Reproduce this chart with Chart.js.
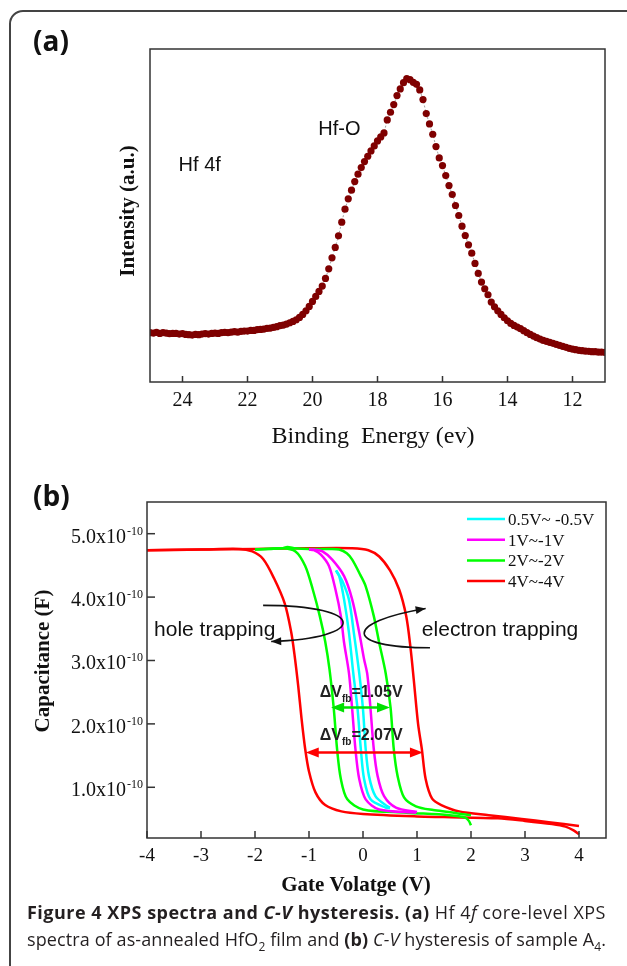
<!DOCTYPE html>
<html>
<head>
<meta charset="utf-8">
<script src="https://cdn.jsdelivr.net/npm/chart.js@4.4.0/dist/chart.umd.min.js"></script>
<style>
  html, body { margin: 0; padding: 0; background: #fff; }
  body { width: 627px; height: 966px; position: relative; overflow: hidden; }
  #frame { position: absolute; left: 9px; top: 10px; width: 660px; height: 1000px;
           border: 2px solid #444; border-radius: 14px; box-sizing: border-box; }
  .panel { position: absolute; left: 33px; font-family: "Open Sans", sans-serif;
           font-weight: bold; font-size: 28px; color: #111; line-height: 1; }
  canvas { position: absolute; left: 0; }
  .cap { position: absolute; left: 27px; font-family: "Open Sans", sans-serif; font-size: 18px;
         line-height: 27px; white-space: nowrap; color: #231f20; }
  .cap sub { font-size: 12px; line-height: 0; }
</style>
</head>
<body>
<div id="frame"></div>
<canvas id="chartA" width="627" height="460" style="top:0"></canvas>
<canvas id="chartB" width="627" height="445" style="top:455px"></canvas>
<div class="panel" style="top:26px">(a)</div>
<div class="panel" style="top:481px">(b)</div>
<div class="cap" id="cap1" style="top:899px"><b>Figure 4 XPS spectra and <i>C-V</i> hysteresis. (a)</b> Hf 4<i>f</i> core-level XPS</div>
<div class="cap" id="cap2" style="top:926px">spectra of as-annealed HfO<sub>2</sub> film and <b>(b)</b> <i>C-V</i> hysteresis of sample A<sub>4</sub>.</div>

<script>
// ---- panel (a): Hf 4f XPS spectrum ----
const energyEv = [
  25.0,24.9,24.8,24.7,24.6,24.5,24.4,24.3,24.2,24.1,
  24.0,23.9,23.8,23.7,23.6,23.5,23.4,23.3,23.2,23.1,
  23.0,22.9,22.8,22.7,22.6,22.5,22.4,22.3,22.2,22.1,
  22.0,21.9,21.8,21.7,21.6,21.5,21.4,21.3,21.2,21.1,
  21.0,20.9,20.8,20.7,20.6,20.5,20.4,20.3,20.2,20.1,
  20.0,19.9,19.8,19.7,19.6,19.5,19.4,19.3,19.2,19.1,
  19.0,18.9,18.8,18.7,18.6,18.5,18.4,18.3,18.2,18.1,
  18.0,17.9,17.8,17.7,17.6,17.5,17.4,17.3,17.2,17.1,
  17.0,16.9,16.8,16.7,16.6,16.5,16.4,16.3,16.2,16.1,
  16.0,15.9,15.8,15.7,15.6,15.5,15.4,15.3,15.2,15.1,
  15.0,14.9,14.8,14.7,14.6,14.5,14.4,14.3,14.2,14.1,
  14.0,13.9,13.8,13.7,13.6,13.5,13.4,13.3,13.2,13.1,
  13.0,12.9,12.8,12.7,12.6,12.5,12.4,12.3,12.2,12.1,
  12.0,11.9,11.8,11.7,11.6,11.5,11.4,11.3,11.2,11.1,
  11.0
];
const intensityAu = [
  14.8,14.7,14.9,14.6,14.8,14.7,14.5,14.6,14.6,14.4,
  14.5,14.3,14.2,14.1,14.3,14.2,14.4,14.5,14.4,14.6,
  14.7,14.6,14.8,14.9,14.8,15.0,15.1,15.0,15.2,15.3,
  15.3,15.5,15.5,15.7,15.8,15.9,16.1,16.2,16.4,16.6,
  16.9,17.1,17.4,17.8,18.2,18.7,19.4,20.3,21.4,22.7,
  24.2,25.7,27.2,28.8,31.1,34.0,37.3,40.4,43.9,48.0,
  51.9,55.0,57.6,60.2,62.4,64.4,66.2,67.8,69.4,70.9,
  72.4,73.6,74.8,78.7,81.0,83.3,86.0,88.0,89.9,91.1,
  90.8,90.0,89.4,87.7,84.8,80.6,77.5,74.4,70.7,67.3,
  65.0,62.0,59.0,56.3,53.0,50.0,46.8,44.0,41.2,38.7,
  35.6,32.6,30.0,28.0,26.2,24.0,22.6,21.4,20.3,19.3,
  18.4,17.6,17.0,16.5,16.0,15.4,14.8,14.3,13.8,13.3,
  12.9,12.5,12.2,11.9,11.6,11.3,11.0,10.7,10.4,10.1,
  9.9,9.7,9.5,9.4,9.3,9.2,9.1,9.1,9.0,9.0,
  8.9
];
const xTicksA = [24, 22, 20, 18, 16, 14, 12];

// ---- panel (b): C-V hysteresis, gate voltage (V) / capacitance (x1e-10 F) ----
const sweepLabels = ['0.5V~ -0.5V', '1V~-1V', '2V~-2V', '4V~-4V'];
const sweepColors = ['#00ffff', '#ff00ff', '#00ff00', '#ff0000'];

const cyanFwdV = [-0.5, -0.47, -0.38, -0.26, -0.17, -0.07, 0.0, 0.05, 0.11, 0.23, 0.45, 0.5];
const cyanFwdC = [4.42, 4.38, 4.25, 3.96, 3.44, 2.8, 2.23, 1.6, 1.18, 0.86, 0.7, 0.68];
const cyanRevV = [0.5, 0.42, 0.14, 0.02, -0.04, -0.1, -0.18, -0.26, -0.35, -0.44, -0.5];
const cyanRevC = [0.67, 0.68, 0.81, 1.13, 1.6, 2.23, 2.8, 3.44, 3.96, 4.33, 4.42];

const magFwdV = [-1.0, -0.9, -0.75, -0.57, -0.35, -0.2, -0.07, 0.02, 0.08, 0.14, 0.2, 0.27, 0.39, 0.61, 1.0];
const magFwdC = [4.75, 4.75, 4.72, 4.59, 4.33, 3.96, 3.44, 3.02, 2.78, 2.23, 1.6, 1.18, 0.86, 0.68, 0.61];
const magRevV = [0.98, 0.3, 0.05, -0.07, -0.14, -0.2, -0.26, -0.35, -0.41, -0.51, -0.63, -0.78, -0.91, -1.0];
const magRevC = [0.6, 0.65, 0.81, 1.13, 1.6, 2.23, 2.8, 3.28, 3.7, 4.12, 4.49, 4.67, 4.74, 4.75];

const greenFwdV = [-2.0, -1.7, -1.5, -1.4, -1.25, -1.0, -0.6, -0.44, -0.3, -0.2, -0.05, 0.05, 0.2, 0.3, 0.42, 0.51, 0.57, 0.64, 0.76, 0.98, 1.3, 1.59, 1.9, 2.0];
const greenFwdC = [4.75, 4.76, 4.77, 4.79, 4.77, 4.76, 4.76, 4.75, 4.69, 4.59, 4.35, 4.17, 3.7, 3.28, 2.8, 2.26, 1.6, 1.18, 0.84, 0.7, 0.64, 0.61, 0.57, 0.56];
const greenRevV = [2.0, 1.96, 1.9, 1.6, 0.8, 0.0, -0.29, -0.41, -0.48, -0.54, -0.62, -0.7, -0.8, -0.93, -1.07, -1.25, -1.5, -2.0];
const greenRevC = [0.4, 0.47, 0.52, 0.56, 0.6, 0.65, 0.81, 1.13, 1.6, 2.23, 2.86, 3.3, 3.7, 4.12, 4.49, 4.72, 4.77, 4.75];

const redFwdV = [-4.0, -3.0, -2.0, -1.0, -0.2, 0.1, 0.3, 0.5, 0.67, 0.8, 0.88, 0.94, 1.02, 1.09, 1.16, 1.28, 1.45, 1.78, 2.33, 2.94, 3.44, 4.0];
const redFwdC = [4.74, 4.75, 4.76, 4.77, 4.77, 4.74, 4.64, 4.42, 4.12, 3.7, 3.2, 2.7, 2.0, 1.6, 1.13, 0.82, 0.72, 0.62, 0.56, 0.5, 0.45, 0.39];
const redRevV = [4.0, 3.9, 3.75, 3.5, 3.0, 2.5, 1.5, 1.0, 0.0, -0.4, -0.7, -0.88, -1.0, -1.07, -1.14, -1.2, -1.27, -1.33, -1.45, -1.65, -1.85, -2.05, -2.3, -3.0, -4.0];
const redRevC = [0.26, 0.32, 0.38, 0.42, 0.47, 0.51, 0.53, 0.54, 0.58, 0.62, 0.72, 0.92, 1.25, 1.6, 2.1, 2.6, 3.1, 3.45, 3.9, 4.3, 4.6, 4.72, 4.76, 4.75, 4.74];

const xTicksB = [-4, -3, -2, -1, 0, 1, 2, 3, 4];
const yTicksB = [1, 2, 3, 4, 5];
const yTickLabelsB = ['1.0x10', '2.0x10', '3.0x10', '4.0x10', '5.0x10'];

const SERIF = '"Liberation Serif", "Times New Roman", serif';
const SANS = '"Liberation Sans", Arial, sans-serif';

function pts(xs, ys) {
  return xs.map((x, i) => ({ x: x, y: ys[i] }));
}

// ---------- chart (a) ----------
const decorA = {
  id: 'decorA',
  afterDraw(chart) {
    const ctx = chart.ctx, a = chart.chartArea, x = chart.scales.x, y = chart.scales.y;
    ctx.save();
    ctx.strokeStyle = '#333';
    ctx.lineWidth = 1.5;
    ctx.strokeRect(a.left, a.top, a.right - a.left, a.bottom - a.top);
    ctx.fillStyle = '#111';
    ctx.font = '20px ' + SERIF;
    ctx.textAlign = 'center';
    ctx.textBaseline = 'alphabetic';
    xTicksA.forEach(v => {
      const px = x.getPixelForValue(v);
      ctx.beginPath();
      ctx.moveTo(px, a.bottom);
      ctx.lineTo(px, a.bottom - 6);
      ctx.stroke();
      ctx.fillText(String(v), px, a.bottom + 24);
    });
    ctx.font = '24px ' + SERIF;
    ctx.fillText('Binding  Energy (ev)', 373, a.bottom + 61);

    ctx.save();
    ctx.translate(129, 211);
    ctx.rotate(-Math.PI / 2);
    ctx.textBaseline = 'middle';
    ctx.font = 'bold 21px ' + SERIF;
    ctx.fillText('Intensity (a.u.)', 0, 0);
    ctx.restore();

    ctx.textAlign = 'left';
    ctx.font = '20px ' + SANS;
    ctx.fillText('Hf 4f', x.getPixelForValue(24.12), y.getPixelForValue(63.4));
    ctx.fillText('Hf-O', x.getPixelForValue(19.82), y.getPixelForValue(74.2));
    ctx.restore();
  }
};

new Chart(document.getElementById('chartA'), {
  type: 'scatter',
  data: {
    datasets: [{
      data: pts(energyEv, intensityAu),
      showLine: true,
      borderColor: '#8a8a8a',
      borderWidth: 0.8,
      borderDash: [2, 2],
      pointRadius: 3.6,
      pointBorderWidth: 0,
      pointBackgroundColor: '#7f0000'
    }]
  },
  options: {
    responsive: false,
    animation: false,
    events: [],
    layout: { padding: { left: 150, top: 49, right: 22, bottom: 78 } },
    plugins: { legend: { display: false }, tooltip: { enabled: false } },
    scales: {
      x: { type: 'linear', display: false, min: 11, max: 25, reverse: true },
      y: { type: 'linear', display: false, min: 0, max: 100 }
    }
  },
  plugins: [decorA]
});

// ---------- chart (b) ----------
function curvedArrow(ctx, x, y, p) {
  const P = p.map(q => [x.getPixelForValue(q[0]), y.getPixelForValue(q[1])]);
  ctx.beginPath();
  ctx.moveTo(P[0][0], P[0][1]);
  ctx.bezierCurveTo(P[1][0], P[1][1], P[2][0], P[2][1], P[3][0], P[3][1]);
  ctx.stroke();
  const ang = Math.atan2(P[3][1] - P[2][1], P[3][0] - P[2][0]);
  arrowHead(ctx, P[3][0], P[3][1], ang, 10, 4);
}

function arrowHead(ctx, px, py, ang, len, half) {
  ctx.beginPath();
  ctx.moveTo(px, py);
  ctx.lineTo(px - len * Math.cos(ang) + half * Math.sin(ang), py - len * Math.sin(ang) - half * Math.cos(ang));
  ctx.lineTo(px - len * Math.cos(ang) - half * Math.sin(ang), py - len * Math.sin(ang) + half * Math.cos(ang));
  ctx.closePath();
  ctx.fill();
}

function doubleArrow(ctx, x, y, v1, v2, c, color) {
  const p1 = x.getPixelForValue(v1), p2 = x.getPixelForValue(v2), py = y.getPixelForValue(c);
  ctx.strokeStyle = color;
  ctx.fillStyle = color;
  ctx.lineWidth = 2.5;
  ctx.beginPath();
  ctx.moveTo(p1 + 8, py);
  ctx.lineTo(p2 - 8, py);
  ctx.stroke();
  arrowHead(ctx, p1, py, Math.PI, 13, 5);
  arrowHead(ctx, p2, py, 0, 13, 5);
}

function deltaLabel(ctx, text, px, py) {
  ctx.fillStyle = '#222';
  ctx.textAlign = 'left';
  ctx.font = 'bold 16px ' + SANS;
  ctx.fillText('\u0394V', px, py);
  let w = ctx.measureText('\u0394V').width;
  ctx.font = 'bold 10px ' + SANS;
  ctx.fillText('fb', px + w, py + 5);
  w += ctx.measureText('fb').width;
  ctx.font = 'bold 16px ' + SANS;
  ctx.fillText(text, px + w, py);
}

const decorB = {
  id: 'decorB',
  afterDraw(chart) {
    const ctx = chart.ctx, a = chart.chartArea, x = chart.scales.x, y = chart.scales.y;
    ctx.save();
    ctx.strokeStyle = '#333';
    ctx.lineWidth = 1.5;
    ctx.strokeRect(a.left, a.top, a.right - a.left, a.bottom - a.top);
    ctx.fillStyle = '#111';
    ctx.textBaseline = 'alphabetic';

    ctx.font = '19px ' + SERIF;
    ctx.textAlign = 'center';
    xTicksB.forEach(v => {
      const px = x.getPixelForValue(v);
      ctx.beginPath();
      ctx.moveTo(px, a.bottom);
      ctx.lineTo(px, a.bottom - 7);
      ctx.stroke();
      ctx.fillText(String(v), px, a.bottom + 23);
    });

    yTicksB.forEach((v, i) => {
      const py = y.getPixelForValue(v);
      ctx.beginPath();
      ctx.moveTo(a.left, py);
      ctx.lineTo(a.left + 8, py);
      ctx.stroke();
      const endX = a.left - 4;
      ctx.textAlign = 'right';
      ctx.font = '12px ' + SERIF;
      const supW = ctx.measureText('-10').width;
      ctx.fillText('-10', endX, py + 1);
      ctx.font = '20px ' + SERIF;
      ctx.fillText(yTickLabelsB[i], endX - supW - 1, py + 9);
    });

    ctx.textAlign = 'center';
    ctx.font = 'bold 21px ' + SERIF;
    ctx.fillText('Gate Volatge (V)', 356, a.bottom + 53);
    ctx.save();
    ctx.translate(44, 206);
    ctx.rotate(-Math.PI / 2);
    ctx.textBaseline = 'middle';
    ctx.fillText('Capacitance (F)', 0, 0);
    ctx.restore();

    // legend
    ctx.font = '17px ' + SERIF;
    ctx.textAlign = 'left';
    sweepLabels.forEach((lab, i) => {
      const ry = a.top + 17 + i * 20.7;
      ctx.strokeStyle = sweepColors[i];
      ctx.lineWidth = 2.5;
      ctx.beginPath();
      ctx.moveTo(a.right - 139, ry);
      ctx.lineTo(a.right - 101, ry);
      ctx.stroke();
      ctx.fillStyle = '#111';
      ctx.fillText(lab, a.right - 98, ry + 6);
    });

    // annotations
    ctx.fillStyle = '#111';
    ctx.font = '21px ' + SANS;
    ctx.fillText('hole trapping', x.getPixelForValue(-3.87), y.getPixelForValue(3.38));
    ctx.fillText('electron trapping', x.getPixelForValue(1.09), y.getPixelForValue(3.38));

    ctx.strokeStyle = '#111';
    ctx.lineWidth = 1.6;
    curvedArrow(ctx, x, y, [[-1.85, 3.87], [0.1, 3.87], [0.1, 3.35], [-1.7, 3.3]]);
    curvedArrow(ctx, x, y, [[1.24, 3.2], [-0.37, 3.2], [-0.37, 3.6], [1.16, 3.82]]);

    deltaLabel(ctx, '=1.05V', x.getPixelForValue(-0.8), y.getPixelForValue(2.42));
    deltaLabel(ctx, '=2.07V', x.getPixelForValue(-0.8), y.getPixelForValue(1.74));
    doubleArrow(ctx, x, y, -0.59, 0.5, 2.26, '#00e000');
    doubleArrow(ctx, x, y, -1.06, 1.11, 1.55, '#ff0000');
    ctx.restore();
  }
};

function branch(xs, ys, color) {
  return {
    data: pts(xs, ys),
    showLine: true,
    borderColor: color,
    borderWidth: 2.5,
    pointRadius: 0,
    tension: 0.3,
    fill: false
  };
}

new Chart(document.getElementById('chartB'), {
  type: 'scatter',
  data: {
    datasets: [
      branch(cyanFwdV, cyanFwdC, sweepColors[0]),
      branch(cyanRevV, cyanRevC, sweepColors[0]),
      branch(magFwdV, magFwdC, sweepColors[1]),
      branch(magRevV, magRevC, sweepColors[1]),
      branch(greenFwdV, greenFwdC, sweepColors[2]),
      branch(greenRevV, greenRevC, sweepColors[2]),
      branch(redFwdV, redFwdC, sweepColors[3]),
      branch(redRevV, redRevC, sweepColors[3])
    ]
  },
  options: {
    responsive: false,
    animation: false,
    events: [],
    layout: { padding: { left: 147, top: 47, right: 21, bottom: 62 } },
    plugins: { legend: { display: false }, tooltip: { enabled: false } },
    scales: {
      x: { type: 'linear', display: false, min: -4, max: 4.5 },
      y: { type: 'linear', display: false, min: 0.2, max: 5.5 }
    }
  },
  plugins: [decorB]
});

// stretch caption lines to the printed width
function fitCaption() {
  ['cap1', 'cap2'].forEach(id => {
    const el = document.getElementById(id);
    el.style.letterSpacing = '0px';
    const w = el.getBoundingClientRect().width;
    const n = el.textContent.length;
    el.style.letterSpacing = ((579 - w) / n).toFixed(3) + 'px';
  });
}
fitCaption();
if (document.fonts && document.fonts.ready) document.fonts.ready.then(fitCaption);
</script>
</body>
</html>
